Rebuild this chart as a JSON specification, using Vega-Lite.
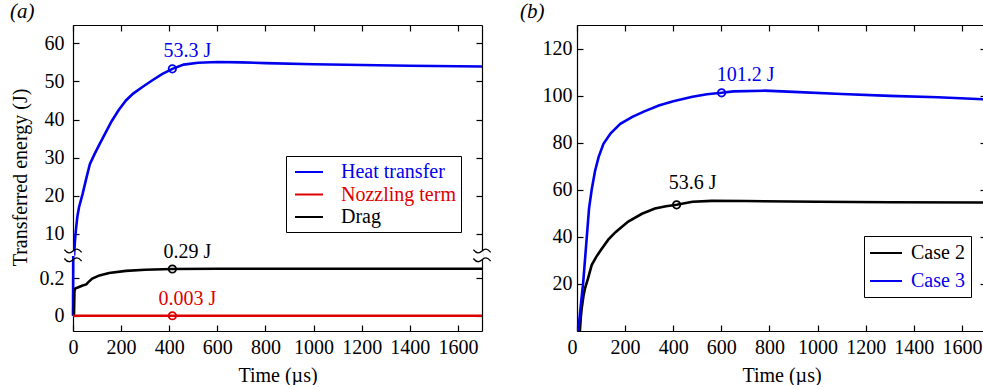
{
  "$schema": "https://vega.github.io/schema/vega-lite/v6.json",
  "autosize": "pad",
  "padding": {"left": 10, "top": 1, "right": 0, "bottom": 0},
  "datasets": {
    "a": [
      {"series": "Heat transfer", "t": 0, "e": 0},
      {"series": "Heat transfer", "t": 1, "e": 0.317},
      {"series": "Heat transfer", "t": 4.5, "e": 4.3},
      {"series": "Heat transfer", "t": 5, "e": 5},
      {"series": "Heat transfer", "t": 8, "e": 8},
      {"series": "Heat transfer", "t": 12, "e": 11},
      {"series": "Heat transfer", "t": 18, "e": 14.5},
      {"series": "Heat transfer", "t": 25, "e": 17},
      {"series": "Heat transfer", "t": 40, "e": 20.5},
      {"series": "Heat transfer", "t": 55, "e": 24.5},
      {"series": "Heat transfer", "t": 70, "e": 28.3},
      {"series": "Heat transfer", "t": 90, "e": 31},
      {"series": "Heat transfer", "t": 110, "e": 33.5},
      {"series": "Heat transfer", "t": 135, "e": 36.5},
      {"series": "Heat transfer", "t": 160, "e": 39.5},
      {"series": "Heat transfer", "t": 190, "e": 42.5},
      {"series": "Heat transfer", "t": 220, "e": 45},
      {"series": "Heat transfer", "t": 250, "e": 46.8},
      {"series": "Heat transfer", "t": 290, "e": 48.6},
      {"series": "Heat transfer", "t": 330, "e": 50.3},
      {"series": "Heat transfer", "t": 370, "e": 51.9},
      {"series": "Heat transfer", "t": 413, "e": 53.3},
      {"series": "Heat transfer", "t": 460, "e": 54.4},
      {"series": "Heat transfer", "t": 520, "e": 54.9},
      {"series": "Heat transfer", "t": 600, "e": 55.1},
      {"series": "Heat transfer", "t": 700, "e": 55.0},
      {"series": "Heat transfer", "t": 800, "e": 54.8},
      {"series": "Heat transfer", "t": 1000, "e": 54.5},
      {"series": "Heat transfer", "t": 1200, "e": 54.3},
      {"series": "Heat transfer", "t": 1400, "e": 54.1},
      {"series": "Heat transfer", "t": 1700, "e": 53.9},
      {"series": "Drag", "t": 0, "e": 0},
      {"series": "Drag", "t": 4, "e": 0},
      {"series": "Drag", "t": 6, "e": 0.13},
      {"series": "Drag", "t": 10, "e": 0.145},
      {"series": "Drag", "t": 20, "e": 0.15},
      {"series": "Drag", "t": 40, "e": 0.16},
      {"series": "Drag", "t": 55, "e": 0.166},
      {"series": "Drag", "t": 65, "e": 0.18},
      {"series": "Drag", "t": 80, "e": 0.197},
      {"series": "Drag", "t": 110, "e": 0.214},
      {"series": "Drag", "t": 150, "e": 0.227},
      {"series": "Drag", "t": 220, "e": 0.238},
      {"series": "Drag", "t": 300, "e": 0.244},
      {"series": "Drag", "t": 413, "e": 0.248},
      {"series": "Drag", "t": 600, "e": 0.249},
      {"series": "Drag", "t": 1700, "e": 0.249},
      {"series": "Nozzling term", "t": 0, "e": 0},
      {"series": "Nozzling term", "t": 1700, "e": 0}
    ],
    "amarkU": [
      {"series": "Heat transfer", "t": 413, "e": 53.3, "label": "53.3 J"}
    ],
    "amarkL": [
      {"series": "Drag", "t": 413, "e": 0.248, "label": "0.29 J"},
      {"series": "Nozzling term", "t": 413, "e": 0, "label": "0.003 J"}
    ],
    "breaks": [{"t": 0}, {"t": 1700}],
    "b": [
      {"series": "Case 2", "t": 12, "e": 0},
      {"series": "Case 2", "t": 16, "e": 6},
      {"series": "Case 2", "t": 20, "e": 10},
      {"series": "Case 2", "t": 27, "e": 15},
      {"series": "Case 2", "t": 33, "e": 18},
      {"series": "Case 2", "t": 45, "e": 22},
      {"series": "Case 2", "t": 61, "e": 28},
      {"series": "Case 2", "t": 80, "e": 31.5},
      {"series": "Case 2", "t": 100, "e": 34.5},
      {"series": "Case 2", "t": 130, "e": 38.8},
      {"series": "Case 2", "t": 160, "e": 42},
      {"series": "Case 2", "t": 213, "e": 46.5},
      {"series": "Case 2", "t": 270, "e": 49.8},
      {"series": "Case 2", "t": 324, "e": 52},
      {"series": "Case 2", "t": 370, "e": 53},
      {"series": "Case 2", "t": 414, "e": 53.6},
      {"series": "Case 2", "t": 480, "e": 54.9},
      {"series": "Case 2", "t": 560, "e": 55.3},
      {"series": "Case 2", "t": 700, "e": 55.2},
      {"series": "Case 2", "t": 1000, "e": 54.9},
      {"series": "Case 2", "t": 1300, "e": 54.7},
      {"series": "Case 2", "t": 1700, "e": 54.6},
      {"series": "Case 3", "t": 5, "e": 0},
      {"series": "Case 3", "t": 15, "e": 10},
      {"series": "Case 3", "t": 26, "e": 21},
      {"series": "Case 3", "t": 40, "e": 39},
      {"series": "Case 3", "t": 50, "e": 52},
      {"series": "Case 3", "t": 61, "e": 60},
      {"series": "Case 3", "t": 75, "e": 68},
      {"series": "Case 3", "t": 90, "e": 74},
      {"series": "Case 3", "t": 110, "e": 79.5},
      {"series": "Case 3", "t": 140, "e": 84},
      {"series": "Case 3", "t": 180, "e": 88},
      {"series": "Case 3", "t": 230, "e": 91},
      {"series": "Case 3", "t": 280, "e": 93.3},
      {"series": "Case 3", "t": 340, "e": 95.8},
      {"series": "Case 3", "t": 400, "e": 97.6},
      {"series": "Case 3", "t": 480, "e": 99.5},
      {"series": "Case 3", "t": 540, "e": 100.6},
      {"series": "Case 3", "t": 601, "e": 101.2},
      {"series": "Case 3", "t": 650, "e": 101.8},
      {"series": "Case 3", "t": 780, "e": 102.1},
      {"series": "Case 3", "t": 900, "e": 101.6},
      {"series": "Case 3", "t": 1100, "e": 100.7},
      {"series": "Case 3", "t": 1300, "e": 99.9},
      {"series": "Case 3", "t": 1500, "e": 99.3},
      {"series": "Case 3", "t": 1700, "e": 98.4}
    ],
    "bmark": [
      {"series": "Case 3", "t": 601, "e": 101.2, "label": "101.2 J"},
      {"series": "Case 2", "t": 414, "e": 53.6, "label": "53.6 J"}
    ]
  },
  "spacing": 26,
  "resolve": {"scale": {"color": "independent", "x": "independent", "y": "independent"}, "legend": {"color": "independent"}},
  "hconcat": [
    {
      "title": {"text": "(a)"},
      "spacing": 0,
      "bounds": "flush",
      "resolve": {"scale": {"color": "independent", "x": "independent", "y": "independent"}, "legend": {"color": "independent"}},
      "vconcat": [
        {
          "width": 409,
          "height": 231,
          "resolve": {"axis": {"y": "independent"}},
          "layer": [
            {
              "data": {"name": "a"},
              "transform": [{"filter": "datum.e >= 4.2"}],
              "mark": {"type": "line", "strokeWidth": 2.6},
              "encoding": {
                "x": {"field": "t", "type": "quantitative", "scale": {"domain": [0, 1700], "nice": false, "zero": false},
                      "axis": {"orient": "top", "labels": false, "title": null, "values": [0, 200, 400, 600, 800, 1000, 1200, 1400, 1600]}},
                "y": {"field": "e", "type": "quantitative", "scale": {"domain": [4.2, 64.8], "nice": false, "zero": false},
                      "axis": {"values": [10, 20, 30, 40, 50, 60], "title": "Transferred energy (J)", "titleY": 152, "titlePadding": 14}},
                "color": {"field": "series", "type": "nominal",
                          "scale": {"domain": ["Heat transfer", "Nozzling term", "Drag"], "range": ["#0000ee", "#dd0000", "#000000"]},
                          "legend": {"orient": "none", "legendX": 213, "legendY": 131, "title": null,
                                     "symbolType": "M -1.4 0 L 1.4 0", "symbolSize": 400, "symbolStrokeWidth": 2, "symbolOffset": 7,
                                     "strokeColor": "black", "fillColor": "white", "padding": 5, "rowPadding": 1.5, "labelOffset": 21,
                                     "encode": {"labels": {"update": {"fill": {"signal": "datum.value === 'Heat transfer' ? '#0000ee' : datum.value === 'Nozzling term' ? '#dd0000' : '#000000'"}}}}}}
              }
            },
            {
              "data": {"name": "amarkU"},
              "mark": {"type": "point", "filled": false, "size": 55, "strokeWidth": 1.8, "opacity": 1},
              "encoding": {
                "x": {"field": "t", "type": "quantitative"},
                "y": {"field": "e", "type": "quantitative", "axis": {"orient": "right", "labels": false, "title": null, "values": [10, 20, 30, 40, 50, 60]}},
                "color": {"field": "series", "type": "nominal", "legend": null}
              }
            },
            {
              "data": {"name": "amarkU"},
              "mark": {"type": "text", "align": "center", "baseline": "alphabetic", "dx": 15, "dy": -12, "fontSize": 20, "font": "Times New Roman"},
              "encoding": {
                "x": {"field": "t", "type": "quantitative"},
                "y": {"field": "e", "type": "quantitative", "axis": null},
                "text": {"field": "label"},
                "color": {"field": "series", "type": "nominal", "legend": null}
              }
            }
          ]
        },
        {
          "width": 409,
          "height": 75,
          "resolve": {"axis": {"y": "independent"}},
          "layer": [
            {
              "data": {"name": "breaks"},
              "mark": {"type": "point", "shape": "M -0.25 -1 L 0.25 -1 L 0.25 1 L -0.25 1 Z", "size": 81, "filled": true, "color": "white", "opacity": 1, "strokeWidth": 0},
              "encoding": {
                "x": {"field": "t", "type": "quantitative"},
                "y": {"datum": 0.3195, "axis": null}
              }
            },
            {
              "data": {"name": "a"},
              "transform": [{"filter": "datum.e <= 0.32"}],
              "mark": {"type": "line", "strokeWidth": 2.6},
              "encoding": {
                "x": {"field": "t", "type": "quantitative", "scale": {"domain": [0, 1700], "nice": false, "zero": false},
                      "axis": {"values": [0, 200, 400, 600, 800, 1000, 1200, 1400, 1600], "format": "d", "title": "Time (µs)"}},
                "y": {"field": "e", "type": "quantitative", "scale": {"domain": [-0.081, 0.317], "nice": false, "zero": false},
                      "axis": {"values": [0, 0.2], "format": "~g", "title": null}},
                "color": {"field": "series", "type": "nominal",
                          "scale": {"domain": ["Heat transfer", "Nozzling term", "Drag"], "range": ["#0000ee", "#dd0000", "#000000"]},
                          "legend": null}
              }
            },
            {
              "data": {"name": "amarkL"},
              "mark": {"type": "point", "filled": false, "size": 55, "strokeWidth": 1.8, "opacity": 1},
              "encoding": {
                "x": {"field": "t", "type": "quantitative"},
                "y": {"field": "e", "type": "quantitative", "axis": {"orient": "right", "labels": false, "title": null, "values": [0, 0.2]}},
                "color": {"field": "series", "type": "nominal", "legend": null}
              }
            },
            {
              "data": {"name": "amarkL"},
              "mark": {"type": "text", "align": "center", "baseline": "alphabetic", "dx": 15, "dy": -11, "fontSize": 20, "font": "Times New Roman"},
              "encoding": {
                "x": {"field": "t", "type": "quantitative"},
                "y": {"field": "e", "type": "quantitative", "axis": null},
                "text": {"field": "label"},
                "color": {"field": "series", "type": "nominal", "legend": null}
              }
            },
            {
              "data": {"name": "breaks"},
              "mark": {"type": "point", "shape": "M -1 -0.15 C -0.6 0.35 -0.3 0.3 0 0 C 0.3 -0.3 0.6 -0.35 1 0.15", "size": 300, "filled": false, "color": "black", "opacity": 1, "strokeWidth": 1.3},
              "encoding": {
                "x": {"field": "t", "type": "quantitative"},
                "y": {"datum": 0.3435, "axis": null}
              }
            },
            {
              "data": {"name": "breaks"},
              "mark": {"type": "point", "shape": "M -1 -0.15 C -0.6 0.35 -0.3 0.3 0 0 C 0.3 -0.3 0.6 -0.35 1 0.15", "size": 300, "filled": false, "color": "black", "opacity": 1, "strokeWidth": 1.3},
              "encoding": {
                "x": {"field": "t", "type": "quantitative"},
                "y": {"datum": 0.297, "axis": null}
              }
            }
          ]
        }
      ]
    },
    {
      "title": {"text": "(b)", "dx": -22},
      "width": 409,
      "height": 306,
      "resolve": {"axis": {"x": "independent", "y": "independent"}},
      "layer": [
        {
          "data": {"name": "b"},
          "mark": {"type": "line", "strokeWidth": 2.6},
          "encoding": {
            "x": {"field": "t", "type": "quantitative", "scale": {"domain": [0, 1700], "nice": false, "zero": false},
                  "axis": {"values": [0, 200, 400, 600, 800, 1000, 1200, 1400, 1600], "format": "d", "title": "Time (µs)",
                           "labelAlign": {"condition": {"test": "datum.value === 0", "value": "right"}, "value": "center"}}},
            "y": {"field": "e", "type": "quantitative", "scale": {"domain": [0, 130], "nice": false, "zero": false},
                  "axis": {"values": [20, 40, 60, 80, 100, 120], "title": null, "labelPadding": 11}},
            "color": {"field": "series", "type": "nominal",
                      "scale": {"domain": ["Case 2", "Case 3"], "range": ["#000000", "#0000ee"]},
                      "legend": {"orient": "none", "legendX": 287, "legendY": 211, "title": null,
                                 "symbolType": "M -1.6 0 L 1.6 0", "symbolSize": 400, "symbolStrokeWidth": 2, "symbolOffset": 5,
                                 "strokeColor": "black", "fillColor": "white", "padding": 6, "rowPadding": 7, "labelOffset": 14,
                                 "encode": {"labels": {"update": {"fill": {"signal": "datum.value === 'Case 3' ? '#0000ee' : '#000000'"}}}}}}
          }
        },
        {
          "data": {"name": "bmark"},
          "mark": {"type": "point", "filled": false, "size": 55, "strokeWidth": 1.8, "opacity": 1},
          "encoding": {
            "x": {"field": "t", "type": "quantitative", "axis": {"orient": "top", "labels": false, "title": null, "values": [0, 200, 400, 600, 800, 1000, 1200, 1400, 1600]}},
            "y": {"field": "e", "type": "quantitative", "axis": {"orient": "right", "labels": false, "title": null, "values": [20, 40, 60, 80, 100, 120]}},
            "color": {"field": "series", "type": "nominal", "legend": null}
          }
        },
        {
          "data": {"name": "bmark"},
          "transform": [{"filter": "datum.series === 'Case 3'"}],
          "mark": {"type": "text", "align": "center", "baseline": "alphabetic", "dx": 24, "dy": -12, "fontSize": 20, "font": "Times New Roman"},
          "encoding": {
            "x": {"field": "t", "type": "quantitative", "axis": null},
            "y": {"field": "e", "type": "quantitative", "axis": null},
            "text": {"field": "label"},
            "color": {"field": "series", "type": "nominal", "legend": null}
          }
        },
        {
          "data": {"name": "bmark"},
          "transform": [{"filter": "datum.series === 'Case 2'"}],
          "mark": {"type": "text", "align": "center", "baseline": "alphabetic", "dx": 16, "dy": -16, "fontSize": 20, "font": "Times New Roman"},
          "encoding": {
            "x": {"field": "t", "type": "quantitative", "axis": null},
            "y": {"field": "e", "type": "quantitative", "axis": null},
            "text": {"field": "label"},
            "color": {"field": "series", "type": "nominal", "legend": null}
          }
        }
      ]
    }
  ],
  "config": {
    "view": {"stroke": null},
    "title": {"font": "Times New Roman", "fontSize": 21, "fontStyle": "italic", "fontWeight": "normal", "anchor": "start", "frame": "bounds", "color": "black", "offset": 2},
    "axis": {"labelFont": "Times New Roman", "labelFontSize": 20, "labelColor": "black",
             "titleFont": "Times New Roman", "titleFontSize": 20, "titleFontWeight": "normal", "titleColor": "black",
             "domainColor": "black", "domainWidth": 1.2, "tickColor": "black", "tickWidth": 1.2, "tickSize": -6,
             "grid": false, "labelFlush": false, "labelOverlap": false},
    "axisX": {"labelPadding": 12, "titlePadding": 8},
    "axisY": {"labelPadding": 15},
    "legend": {"labelFont": "Times New Roman", "labelFontSize": 20}
  }
}
